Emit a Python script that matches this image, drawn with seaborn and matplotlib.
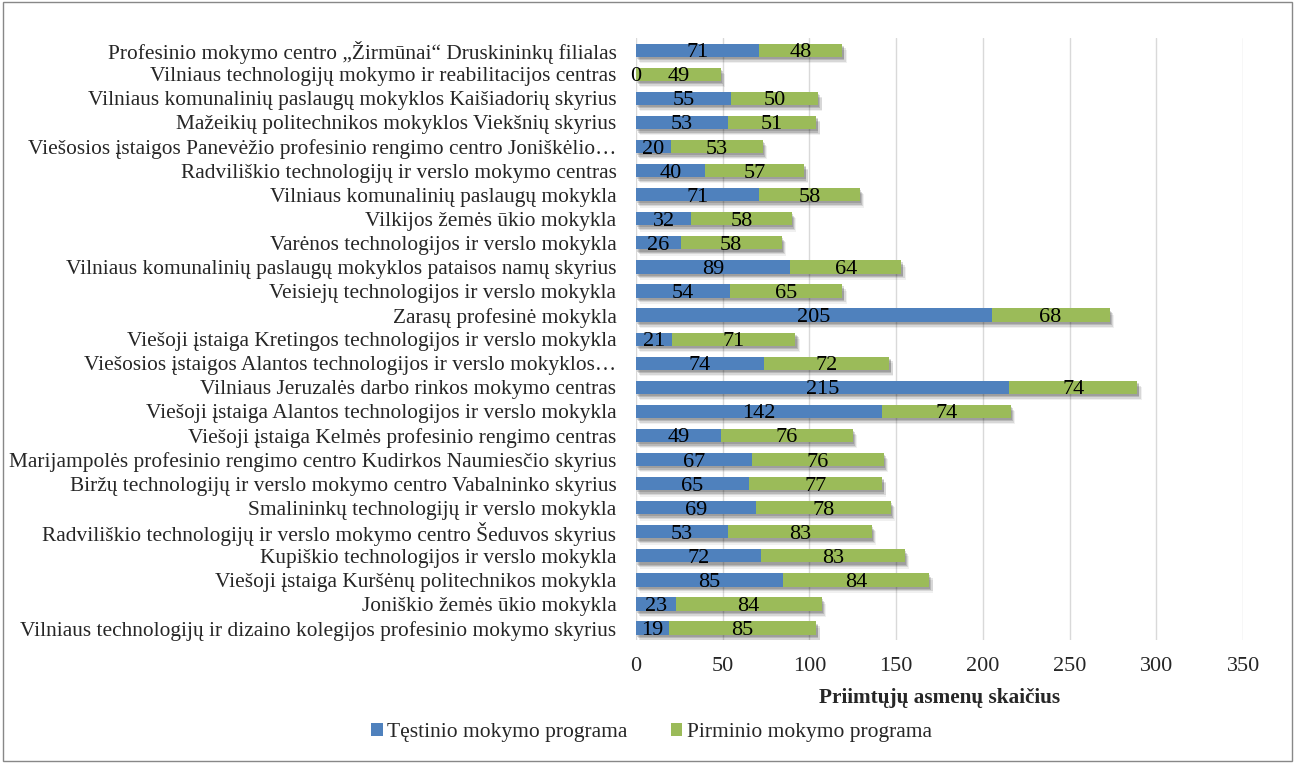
import matplotlib
matplotlib.use("Agg")
import matplotlib.pyplot as plt
import matplotlib.patheffects as pe
from matplotlib.patches import Rectangle, Patch
import seaborn as sns
import pandas as pd

categories = [
    "Profesinio mokymo centro „Žirmūnai“ Druskininkų filialas",
    "Vilniaus technologijų mokymo ir reabilitacijos centras",
    "Vilniaus komunalinių paslaugų mokyklos Kaišiadorių skyrius",
    "Mažeikių politechnikos mokyklos Viekšnių skyrius",
    "Viešosios įstaigos Panevėžio profesinio rengimo centro Joniškėlio…",
    "Radviliškio technologijų ir verslo mokymo centras",
    "Vilniaus komunalinių paslaugų mokykla",
    "Vilkijos žemės ūkio mokykla",
    "Varėnos technologijos ir verslo mokykla",
    "Vilniaus komunalinių paslaugų mokyklos pataisos namų skyrius",
    "Veisiejų technologijos ir verslo mokykla",
    "Zarasų profesinė mokykla",
    "Viešoji įstaiga Kretingos technologijos ir verslo mokykla",
    "Viešosios įstaigos Alantos technologijos ir verslo mokyklos…",
    "Vilniaus Jeruzalės darbo rinkos mokymo centras",
    "Viešoji įstaiga Alantos technologijos ir verslo mokykla",
    "Viešoji įstaiga Kelmės profesinio rengimo centras",
    "Marijampolės profesinio rengimo centro Kudirkos Naumiesčio skyrius",
    "Biržų technologijų ir verslo mokymo centro Vabalninko skyrius",
    "Smalininkų technologijų ir verslo mokykla",
    "Radviliškio technologijų ir verslo mokymo centro Šeduvos skyrius",
    "Kupiškio technologijos ir verslo mokykla",
    "Viešoji įstaiga Kuršėnų politechnikos mokykla",
    "Joniškio žemės ūkio mokykla",
    "Vilniaus technologijų ir dizaino kolegijos profesinio mokymo skyrius",
]
testinio = [71, 0, 55, 53, 20, 40, 71, 32, 26, 89, 54, 205, 21, 74, 215, 142, 49, 67, 65, 69, 53, 72, 85, 23, 19]
pirminio = [48, 49, 50, 51, 53, 57, 58, 58, 58, 64, 65, 68, 71, 72, 74, 74, 76, 76, 77, 78, 83, 83, 84, 84, 85]
series_names = ["Tęstinio mokymo programa", "Pirminio mokymo programa"]
xticks = [0, 50, 100, 150, 200, 250, 300, 350]

BLUE = "#4F81BD"
GREEN = "#9BBB59"

sns.set_theme(style="white")
plt.rcParams["font.family"] = ["Liberation Serif", "DejaVu Serif"]

df = pd.DataFrame({"cat": categories, "t": testinio, "p": pirminio})
df["total"] = df["t"] + df["p"]

fig = plt.figure(figsize=(12.95, 7.63), dpi=100)
ax = fig.add_axes([0.491, 0.161, 0.469, 0.789])

sns.barplot(data=df, y="cat", x="total", color=GREEN, saturation=1, width=0.55,
            ax=ax, orient="h", linewidth=0, edgecolor="none")
sns.barplot(data=df, y="cat", x="t", color=BLUE, saturation=1, width=0.55,
            ax=ax, orient="h", linewidth=0, edgecolor="none")

shadow = [
    pe.SimplePatchShadow(offset=(3, -4.5), shadow_rgbFace="#000000", alpha=0.06),
    pe.SimplePatchShadow(offset=(2.5, -3.5), shadow_rgbFace="#000000", alpha=0.10),
    pe.SimplePatchShadow(offset=(1.5, -2.5), shadow_rgbFace="#000000", alpha=0.14),
    pe.SimplePatchShadow(offset=(1, -1.5), shadow_rgbFace="#000000", alpha=0.14),
    pe.Normal(),
]
for p in ax.containers[0]:
    p.set_path_effects(shadow)

fs = 16
for i, (t, p) in enumerate(zip(testinio, pirminio)):
    ax.text(t / 2, i, str(t), ha="center", va="center_baseline", fontsize=fs, color="black")
    ax.text(t + p / 2, i, str(p), ha="center", va="center_baseline", fontsize=fs, color="black")

ax.set_xlim(0, 350)
ax.set_xticks(xticks)
ax.set_xticklabels([str(v) for v in xticks], fontsize=16)
ax.tick_params(axis="x", length=0, pad=12)
ax.tick_params(axis="y", length=0, pad=14, labelsize=15.4)
ax.set_ylabel("")
ax.set_xlabel("Priimtųjų asmenų skaičius", fontsize=15.3, fontweight="bold", labelpad=9)
ax.grid(axis="x", color="#D9D9D9", linewidth=1)
ax.set_axisbelow(True)
for s in ax.spines.values():
    s.set_visible(False)

handles = [Patch(facecolor=BLUE, linewidth=0), Patch(facecolor=GREEN, linewidth=0)]
fig.legend(handles, series_names,
           loc="center", bbox_to_anchor=(0.503, 0.04), ncol=2, frameon=False,
           fontsize=15.5, handlelength=0.55, handleheight=0.55, handletextpad=0.2,
           columnspacing=2.0)

fig.patches.append(Rectangle((0.002, 0.003), 0.996, 0.994, transform=fig.transFigure,
                             fill=False, edgecolor="#888888", linewidth=1))

fig.savefig("out.png", dpi=100)
